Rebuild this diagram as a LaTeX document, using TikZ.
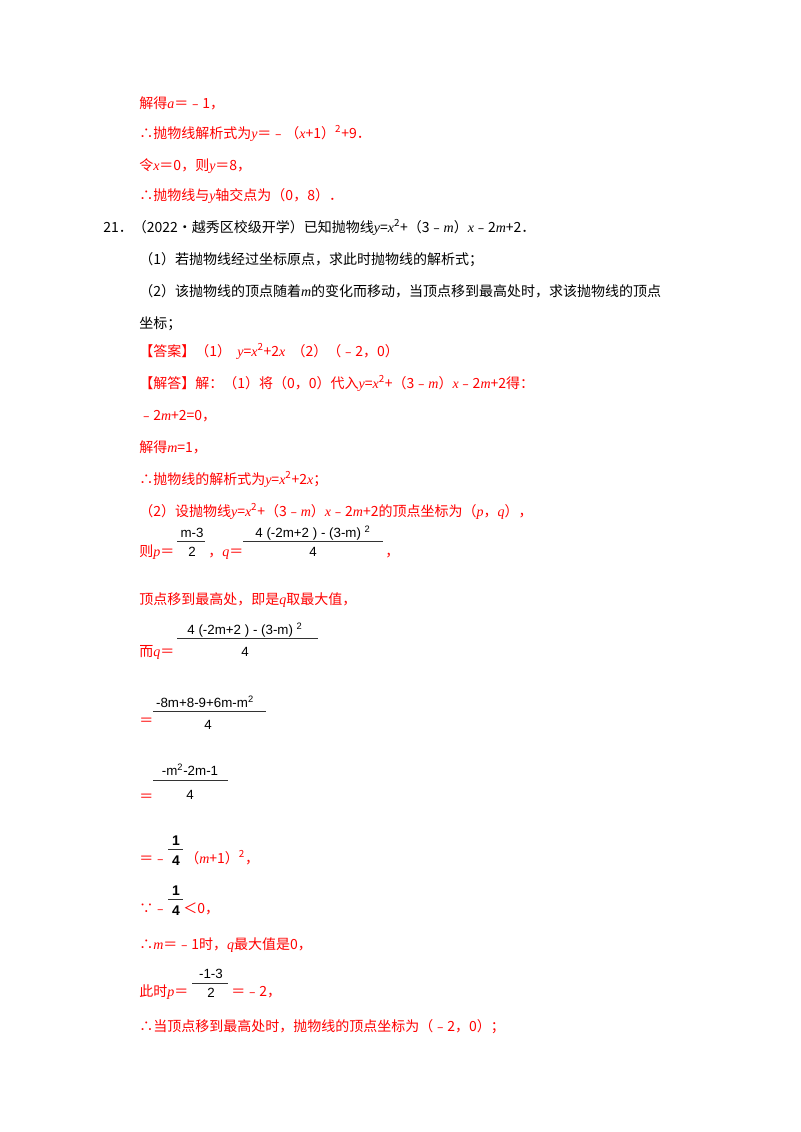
\documentclass[tikz,border=0pt]{standalone}
\usepackage{fontspec}
\setmainfont{Noto Sans CJK SC}
\newfontfamily\latit{Liberation Serif}[ItalicFont={Liberation Serif Italic}]
\newfontfamily\fr{Liberation Sans}
\newcommand\vv[1]{{\latit\itshape #1}}
\newcommand\sq{\textsuperscript{2}}
\definecolor{ans}{RGB}{255,0,0}
\begin{document}
\begin{tikzpicture}[x=0.75pt,y=-0.75pt,
  t/.style={anchor=base west,inner sep=0pt,font=\fontsize{10.5}{12}\selectfont},
  r/.style={t,text=ans},
  fn/.style={anchor=base,inner sep=0pt,font=\fr\fontsize{10}{12}\selectfont},
  bar/.style={line width=0.6pt,draw=black!80}]
\useasboundingbox (0,0) rectangle (800,1132);
\node[r] (l1) at (139,108) {解得\vv{a}＝﹣1，};
\node[r] (l2) at (139,138) {∴抛物线解析式为\vv{y}＝﹣（\vv{x}+1）\sq+9．};
\node[r] (l3) at (139,170) {令\vv{x}＝0，则\vv{y}＝8，};
\node[r] (l4) at (139,200) {∴抛物线与\vv{y}轴交点为（0，8）．};
\node[t] (l5) at (103,232) {21．（2022•越秀区校级开学）已知抛物线\vv{y}=\vv{x}\sq+（3﹣\vv{m}）\vv{x}﹣2\vv{m}+2．};
\node[t] (l6) at (139,264) {（1）若抛物线经过坐标原点，求此时抛物线的解析式；};
\node[t] (l7) at (139,296) {（2）该抛物线的顶点随着\vv{m}的变化而移动，当顶点移到最高处时，求该抛物线的顶点};
\node[t] (l8) at (139,328) {坐标；};
\node[r] (l9) at (139,356) {【答案】（1）\ \ \vv{y}=\vv{x}\sq+2\vv{x}\ \ （2）（﹣2，0）};
\node[r] (l10) at (139,388) {【解答】解：（1）将（0，0）代入\vv{y}=\vv{x}\sq+（3﹣\vv{m}）\vv{x}﹣2\vv{m}+2得：};
\node[r] (l11) at (139,420) {﹣2\vv{m}+2=0，};
\node[r] (l12) at (139,452) {解得\vv{m}=1，};
\node[r] (l13) at (139,484) {∴抛物线的解析式为\vv{y}=\vv{x}\sq+2\vv{x}；};
\node[r] (l14) at (139,516) {（2）设抛物线\vv{y}=\vv{x}\sq+（3﹣\vv{m}）\vv{x}﹣2\vv{m}+2的顶点坐标为（\vv{p}，\vv{q}），};
% line p,q
\node[r] (l15) at (139,556) {则\vv{p}＝};
\node[fn] (f1n) at (192,537) {m-3}; \draw[bar] (177,541)--(205,541); \node[fn] (f1d) at (192,556) {2};
\node[r] (l15b) at (208,556) {，\vv{q}＝};
\node[fn] (f2n) at (313,537) {4 (-2m+2 ) - (3-m) \textsuperscript{2}}; \draw[bar] (243,541)--(383,541); \node[fn] (f2d) at (313,556) {4};
\node[r] (l15c) at (385,556) {，};
\node[r] (l16) at (139,604) {顶点移到最高处，即是\vv{q}取最大值，};
\node[r] (l17) at (139,656) {而\vv{q}＝};
\node[fn] (f3n) at (245,634) {4 (-2m+2 ) - (3-m) \textsuperscript{2}}; \draw[bar] (177,638)--(318,638); \node[fn] (f3d) at (245,656) {4};
\node[r] (l18) at (139,725) {＝};
\node[fn] (f4n) at (205,707) {-8m+8-9+6m-m\textsuperscript{2}}; \draw[bar] (153,711)--(266,711); \node[fn] (f4d) at (208,729) {4};
\node[r] (l19) at (139,801) {＝};
\node[fn] (f5n) at (190,775) {-m\textsuperscript{2}-2m-1}; \draw[bar] (153,780)--(228,780); \node[fn] (f5d) at (190,799) {4};
\node[r] (l20) at (139,863) {＝﹣};
\node[fn,font=\fr\bfseries\fontsize{10.5}{12}\selectfont] (f6n) at (176,845) {1}; \draw[bar] (168,849)--(183,849); \node[fn,font=\fr\bfseries\fontsize{10.5}{12}\selectfont] (f6d) at (176,865) {4};
\node[r] (l20b) at (185,863) {（\vv{m}+1）\textsuperscript{2}，};
\node[r] (l21) at (139,913) {∵﹣};
\node[fn,font=\fr\bfseries\fontsize{10.5}{12}\selectfont] (f7n) at (176,895) {1}; \draw[bar] (168,899)--(183,899); \node[fn,font=\fr\bfseries\fontsize{10.5}{12}\selectfont] (f7d) at (176,915) {4};
\node[r] (l21b) at (183,913) {＜0，};
\node[r] (l22) at (139,949) {∴\vv{m}＝﹣1时，\vv{q}最大值是0，};
\node[r] (l23) at (139,996) {此时\vv{p}＝};
\node[fn] (f8n) at (211,978) {-1-3}; \draw[bar] (192,983)--(228,983); \node[fn] (f8d) at (211,997) {2};
\node[r] (l23b) at (231,996) {＝﹣2，};
\node[r] (l24) at (139,1031) {∴当顶点移到最高处时，抛物线的顶点坐标为（﹣2，0）；};
\end{tikzpicture}
\end{document}
